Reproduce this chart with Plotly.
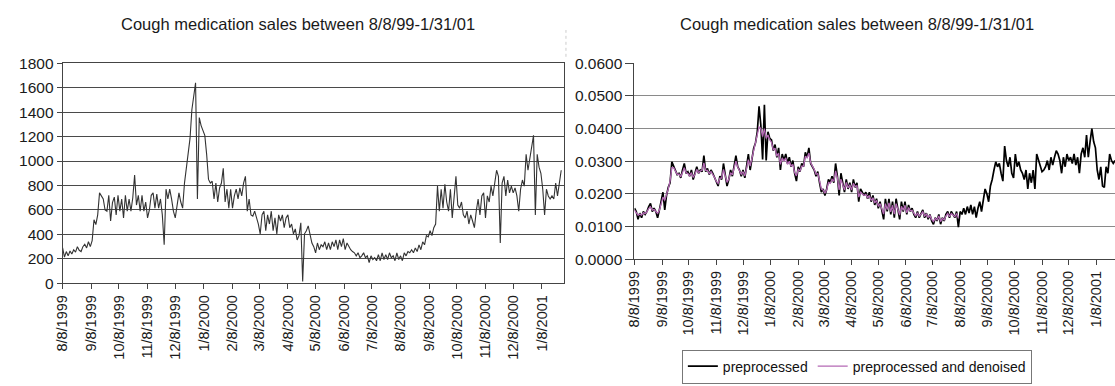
import pandas as pd
import plotly.graph_objects as go

# ---------------- data ----------------
START = "1999-08-08"          # first day of both series, sampled every 2 days

left_sales = [
    290, 215, 260, 225, 265, 240, 275, 255, 300, 270,
    260, 300, 320, 290, 340, 300, 350, 520, 480, 560,
    740, 720, 690, 600, 590, 720, 510, 660, 705, 560,
    720, 590, 690, 535, 720, 590, 690, 590, 700, 885,
    640, 720, 590, 720, 590, 665, 535, 600, 720, 740,
    615, 730, 615, 690, 560, 315, 770, 690, 770, 690,
    590, 535, 650, 740, 665, 615, 820, 950, 1030, 1185,
    1420, 1550, 1640, 690, 1355, 1290, 1250, 1210, 1055, 850,
    820, 835, 690, 820, 665, 780, 820, 940, 665, 770,
    615, 770, 615, 715, 770, 690, 780, 715, 820, 875,
    590, 690, 560, 550, 590, 535, 485, 405, 560, 590,
    430, 560, 485, 590, 430, 535, 405, 560, 510, 560,
    455, 535, 560, 455, 485, 405, 445, 355, 390, 495,
    15, 405, 430, 470, 390, 330, 300, 250, 330, 275,
    315, 300, 340, 275, 330, 275, 340, 300, 355, 275,
    355, 300, 365, 275, 330, 300, 275, 260, 250, 225,
    250, 210, 225, 250, 210, 225, 170, 225, 195, 210,
    185, 235, 185, 250, 195, 235, 195, 250, 210, 225,
    185, 250, 195, 225, 185, 250, 225, 260, 250, 275,
    250, 290, 260, 315, 275, 340, 315, 390, 380, 430,
    390, 455, 485, 795, 590, 770, 615, 810, 665, 590,
    770, 535, 715, 875, 640, 615, 665, 560, 535, 590,
    485, 560, 510, 455, 590, 690, 560, 715, 740, 535,
    715, 665, 795, 715, 820, 925, 875, 330, 820, 875,
    715, 845, 740, 795, 740, 780, 715, 590, 770, 845,
    795, 1055, 925, 1030, 1130, 1210, 560, 1055, 950, 900,
    770, 560, 770, 715, 690, 715, 690, 820, 715, 845,
    925,
]

preprocessed = [
    0.0156, 0.0146, 0.0122, 0.0141, 0.0127, 0.0146, 0.0137, 0.0146, 0.0161, 0.0171,
    0.0146, 0.0156, 0.0146, 0.0127, 0.0151, 0.0176, 0.0205, 0.0151, 0.0195, 0.0220,
    0.0234, 0.0298, 0.0283, 0.0268, 0.0259, 0.0263, 0.0249, 0.0273, 0.0293, 0.0263,
    0.0268, 0.0254, 0.0273, 0.0244, 0.0263, 0.0283, 0.0263, 0.0273, 0.0268, 0.0317,
    0.0268, 0.0278, 0.0259, 0.0273, 0.0263, 0.0249, 0.0234, 0.0224, 0.0254, 0.0244,
    0.0293, 0.0254, 0.0224, 0.0244, 0.0273, 0.0254, 0.0288, 0.0317, 0.0283, 0.0273,
    0.0254, 0.0273, 0.0249, 0.0283, 0.0322, 0.0273, 0.0312, 0.0340, 0.0356, 0.0390,
    0.0468, 0.0410, 0.0305, 0.0473, 0.0302, 0.0390, 0.0370, 0.0365, 0.0332, 0.0351,
    0.0312, 0.0341, 0.0273, 0.0322, 0.0302, 0.0322, 0.0293, 0.0312, 0.0283, 0.0302,
    0.0263, 0.0239, 0.0283, 0.0268, 0.0293, 0.0283, 0.0327, 0.0312, 0.0341, 0.0293,
    0.0283, 0.0273, 0.0254, 0.0268, 0.0234, 0.0205, 0.0215, 0.0195, 0.0215, 0.0244,
    0.0234, 0.0254, 0.0234, 0.0293, 0.0254, 0.0195, 0.0263, 0.0234, 0.0205, 0.0244,
    0.0215, 0.0234, 0.0205, 0.0244, 0.0220, 0.0234, 0.0176, 0.0215, 0.0205, 0.0195,
    0.0205, 0.0185, 0.0205, 0.0176, 0.0195, 0.0166, 0.0185, 0.0156, 0.0176, 0.0146,
    0.0122, 0.0185, 0.0146, 0.0185, 0.0137, 0.0176, 0.0127, 0.0185, 0.0146, 0.0122,
    0.0176, 0.0146, 0.0176, 0.0137, 0.0166, 0.0146, 0.0156, 0.0137, 0.0127, 0.0146,
    0.0127, 0.0137, 0.0151, 0.0127, 0.0141, 0.0122, 0.0137, 0.0117, 0.0107, 0.0127,
    0.0117, 0.0137, 0.0107, 0.0127, 0.0117, 0.0137, 0.0146, 0.0127, 0.0146, 0.0137,
    0.0127, 0.0146, 0.0098, 0.0146, 0.0137, 0.0156, 0.0137, 0.0161, 0.0141, 0.0166,
    0.0137, 0.0161, 0.0127, 0.0156, 0.0176, 0.0146, 0.0176, 0.0215, 0.0200, 0.0176,
    0.0224, 0.0244, 0.0273, 0.0298, 0.0283, 0.0293, 0.0263, 0.0239, 0.0346, 0.0302,
    0.0283, 0.0312, 0.0263, 0.0249, 0.0322, 0.0283, 0.0298, 0.0273, 0.0263, 0.0244,
    0.0273, 0.0215, 0.0263, 0.0234, 0.0273, 0.0215, 0.0322, 0.0302, 0.0283, 0.0268,
    0.0273, 0.0283, 0.0302, 0.0273, 0.0312, 0.0288, 0.0312, 0.0332, 0.0322, 0.0302,
    0.0263, 0.0312, 0.0283, 0.0322, 0.0302, 0.0312, 0.0293, 0.0322, 0.0288, 0.0312,
    0.0263, 0.0322, 0.0341, 0.0312, 0.0380, 0.0312, 0.0360, 0.0400, 0.0360, 0.0341,
    0.0273, 0.0244, 0.0283, 0.0224, 0.0220, 0.0283, 0.0263, 0.0322, 0.0302, 0.0293,
    0.0302,
]

denoised = [
    0.0150, 0.0142, 0.0135, 0.0138, 0.0135, 0.0142, 0.0140, 0.0145, 0.0155, 0.0160,
    0.0150, 0.0152, 0.0145, 0.0140, 0.0150, 0.0172, 0.0190, 0.0180, 0.0195, 0.0215,
    0.0240, 0.0280, 0.0280, 0.0268, 0.0260, 0.0260, 0.0252, 0.0265, 0.0280, 0.0265,
    0.0262, 0.0255, 0.0265, 0.0250, 0.0260, 0.0275, 0.0265, 0.0270, 0.0272, 0.0295,
    0.0272, 0.0272, 0.0262, 0.0268, 0.0260, 0.0250, 0.0238, 0.0232, 0.0248, 0.0248,
    0.0275, 0.0255, 0.0235, 0.0245, 0.0265, 0.0258, 0.0280, 0.0300, 0.0282, 0.0272,
    0.0260, 0.0268, 0.0255, 0.0278, 0.0305, 0.0285, 0.0310, 0.0335, 0.0355, 0.0380,
    0.0405, 0.0400, 0.0375, 0.0400, 0.0370, 0.0380, 0.0365, 0.0358, 0.0335, 0.0340,
    0.0315, 0.0325, 0.0290, 0.0310, 0.0300, 0.0310, 0.0290, 0.0300, 0.0285, 0.0290,
    0.0265, 0.0255, 0.0275, 0.0270, 0.0285, 0.0285, 0.0315, 0.0310, 0.0325, 0.0295,
    0.0285, 0.0275, 0.0260, 0.0262, 0.0240, 0.0215, 0.0212, 0.0202, 0.0212, 0.0235,
    0.0232, 0.0245, 0.0238, 0.0270, 0.0250, 0.0212, 0.0245, 0.0230, 0.0212, 0.0235,
    0.0218, 0.0228, 0.0212, 0.0232, 0.0222, 0.0225, 0.0190, 0.0205, 0.0200, 0.0195,
    0.0198, 0.0188, 0.0195, 0.0180, 0.0188, 0.0172, 0.0180, 0.0162, 0.0170, 0.0152,
    0.0138, 0.0170, 0.0152, 0.0172, 0.0145, 0.0165, 0.0138, 0.0170, 0.0150, 0.0135,
    0.0162, 0.0150, 0.0165, 0.0142, 0.0158, 0.0148, 0.0150, 0.0140, 0.0132, 0.0142,
    0.0132, 0.0138, 0.0145, 0.0132, 0.0138, 0.0128, 0.0134, 0.0122, 0.0115, 0.0125,
    0.0120, 0.0132, 0.0115, 0.0125, 0.0120, 0.0132, 0.0140, 0.0130, 0.0140, 0.0135,
    0.0130, 0.0140, 0.0125,
]

tick_dates = list(pd.date_range("1999-08-01", "2001-01-01", freq="MS") + pd.Timedelta(days=7))
tick_text = [f"{d.month}/{d.day}/{d.year}" for d in tick_dates]

title_text = "Cough medication sales between 8/8/99-1/31/01"
legend_names = ["preprocessed", "preprocessed and denoised"]

# ---------------- figure ----------------
W, H = 1115, 386
FONT = "Liberation Sans, Arial, sans-serif"
TXT = "#1a1a1a"


def dates_for(arr):
    return pd.date_range(START, periods=len(arr), freq="2D")


fig = go.Figure()
fig.add_trace(go.Scatter(
    x=dates_for(left_sales), y=left_sales, mode="lines",
    line=dict(color="#333333", width=1.1), showlegend=False,
    xaxis="x", yaxis="y"))
fig.add_trace(go.Scatter(
    x=dates_for(preprocessed), y=preprocessed, mode="lines", name=legend_names[0],
    line=dict(color="#000000", width=1.7), xaxis="x2", yaxis="y2"))
fig.add_trace(go.Scatter(
    x=dates_for(denoised), y=denoised, mode="lines", name=legend_names[1],
    line=dict(color="#b468b4", width=1.3), xaxis="x2", yaxis="y2"))

common_x = dict(type="date", tickmode="array", tickvals=tick_dates, ticktext=tick_text,
                tickangle=-90, ticks="outside", ticklen=5, tickcolor="#444",
                showline=True, linecolor="#444", linewidth=1, showgrid=False,
                tickfont=dict(size=14.5, color=TXT))
common_y = dict(ticks="outside", tickcolor="#444", showline=True,
                linecolor="#444", linewidth=1, showgrid=True, zeroline=False,
                tickfont=dict(size=15.5, color=TXT))

fig.update_layout(
    width=W, height=H, margin=dict(l=0, r=0, t=0, b=0),
    paper_bgcolor="white", plot_bgcolor="white",
    font=dict(family=FONT, color=TXT),
    xaxis=dict(domain=[55 / W, 560 / W], range=["1999-08-08", "2001-02-01"],
               anchor="y", mirror=True, **common_x),
    yaxis=dict(domain=[(H - 287) / H, (H - 56.7) / H], range=[0, 1800], dtick=200,
               anchor="x", mirror=True, ticklen=5, gridcolor="#4a4a4a", **common_y),
    xaxis2=dict(domain=[631 / W, 1.0], range=["1999-08-08", "2001-01-29"],
                anchor="y2", **common_x),
    yaxis2=dict(domain=[(H - 261.7) / H, (H - 56.7) / H], range=[0, 0.06], dtick=0.01,
                tickformat=".4f", anchor="x2", ticklen=8, gridcolor="#8a8a8a", **common_y),
    legend=dict(orientation="h", x=855 / W, xanchor="center", y=(H - 374) / H,
                yanchor="middle", bordercolor="#777", borderwidth=1, bgcolor="white",
                font=dict(size=14, color="#111"), itemwidth=30),
    annotations=[
        dict(text=title_text, x=292 / W, y=(H - 16) / H, xref="paper", yref="paper",
             showarrow=False, xanchor="center", yanchor="middle",
             font=dict(size=16.5, color=TXT)),
        dict(text=title_text, x=855 / W, y=(H - 16) / H, xref="paper", yref="paper",
             showarrow=False, xanchor="center", yanchor="middle",
             font=dict(size=16.5, color=TXT)),
    ],
    shapes=[
        dict(type="line", xref="paper", yref="paper", x0=562 / W, x1=562 / W,
             y0=(H - 50) / H, y1=(H - 22) / H, line=dict(color="#cccccc", width=1, dash="dot")),
    ],
)

fig.write_html("out.html", config={"displayModeBar": False})
